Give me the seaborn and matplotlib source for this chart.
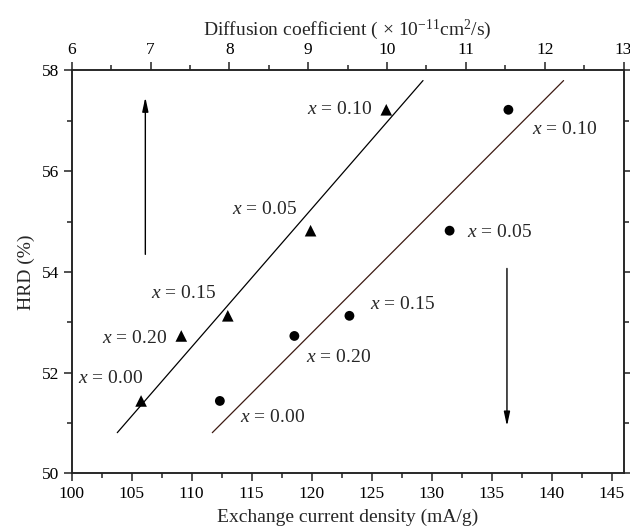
import matplotlib
matplotlib.use("Agg")
import matplotlib.pyplot as plt
import seaborn as sns
import pandas as pd

# composition x of the alloys
composition = ["0.00", "0.05", "0.10", "0.15", "0.20"]
hrd = [51.44, 54.82, 57.22, 53.13, 52.73]
diffusion = [6.88, 9.03, 9.99, 7.98, 7.39]          # x 1e-11 cm2/s (top axis)
exchange = [112.35, 131.5, 136.4, 123.15, 118.56]   # mA/g (bottom axis)

# trend lines drawn in the figure (end points)
diff_line_x = [6.578, 10.456]
diff_line_y = [50.81, 57.80]
exch_line_x = [111.72, 141.0]
exch_line_y = [50.81, 57.80]

# label offsets in pixels (dx, dy, ha)
tri_offsets = {"0.00": (2, 22, "right"), "0.05": (-14, 21, "right"), "0.10": (-14, 0, "right"),
               "0.15": (-12, 22, "right"), "0.20": (-14, -3, "right")}
circ_offsets = {"0.00": (20, -17, "left"), "0.05": (17, -2, "left"), "0.10": (24, -20, "left"),
                "0.15": (21, 11, "left"), "0.20": (12, -22, "left")}

sns.set_theme(style="ticks")
plt.rcParams["font.family"] = ["Liberation Serif", "DejaVu Serif"]
plt.rcParams["mathtext.fontset"] = "custom"
plt.rcParams["mathtext.rm"] = "Liberation Serif"
plt.rcParams["mathtext.it"] = "Liberation Serif:italic"
plt.rcParams["axes.linewidth"] = 1.1

df = pd.DataFrame({"x": composition, "hrd": hrd, "diff": diffusion, "exch": exchange})

fig = plt.figure(figsize=(6.3, 5.32), dpi=100)
ax = fig.add_axes([0.1138, 0.110, 0.876, 0.7575])
ax2 = ax.twiny()

# circles: exchange current density (bottom axis)
sns.lineplot(x=exch_line_x, y=exch_line_y, ax=ax, color="#3d1a12", lw=0.9)
sns.scatterplot(data=df, x="exch", y="hrd", ax=ax, marker="o", s=50, color="black",
                edgecolor="none", zorder=3)

# triangles: diffusion coefficient (top axis)
sns.lineplot(x=diff_line_x, y=diff_line_y, ax=ax2, color="black", lw=0.9)
sns.scatterplot(data=df, x="diff", y="hrd", ax=ax2, marker="^", s=70, color="black",
                edgecolor="none", zorder=3)

for c, xv, yv in zip(composition, exchange, hrd):
    dx, dy, ha = circ_offsets[c]
    ax.annotate(rf"$x$ = {c}", (xv, yv), xytext=(dx, dy), textcoords="offset pixels",
                ha=ha, va="center", fontsize=14)
for c, xv, yv in zip(composition, diffusion, hrd):
    dx, dy, ha = tri_offsets[c]
    ax2.annotate(rf"$x$ = {c}", (xv, yv), xytext=(dx, dy), textcoords="offset pixels",
                 ha=ha, va="center", fontsize=14)

# direction arrows
arrow = dict(arrowstyle="-|>,head_length=0.7,head_width=0.15", color="black", lw=1.0,
             shrinkA=0, shrinkB=0)
ax2.annotate("", xy=(6.934, 57.47), xytext=(6.934, 54.35), arrowprops=arrow)
ax.annotate("", xy=(136.28, 50.94), xytext=(136.28, 54.07), arrowprops=arrow)

ax.set_xlim(100, 146)
ax.set_ylim(50, 58)
ax2.set_xlim(6, 13)
ax.set_xticks(range(100, 146, 5))
ax.set_xticks([100 + 2.5 * i for i in range(19)], minor=True)
ax.set_yticks(range(50, 59, 2))
ax.set_yticks(range(50, 59), minor=True)
ax2.set_xticks(range(6, 14))
ax2.set_xticks([6 + 0.5 * i for i in range(15)], minor=True)

for a in (ax, ax2):
    a.tick_params(which="major", direction="out", length=6, width=1.1, labelsize=12.5,
                  colors="#222222", labelcolor="black", pad=3)
    a.tick_params(which="minor", direction="out", length=3.5, width=1.1, colors="#222222")
    for s in a.spines.values():
        s.set_visible(True)
        s.set_color("#222222")
ax.tick_params(axis="y", which="both", right=True)

ax.set_xlabel("Exchange current density (mA/g)", fontsize=14, labelpad=5)
ax2.set_xlabel(r"Diffusion coefficient ( $\times$ 10$^{-11}$cm$^2$/s)", fontsize=14, labelpad=5)
ax2.set_ylabel("")
ax.set_ylabel("HRD (%)", fontsize=14, labelpad=5)

fig.savefig("out.png", dpi=100)
